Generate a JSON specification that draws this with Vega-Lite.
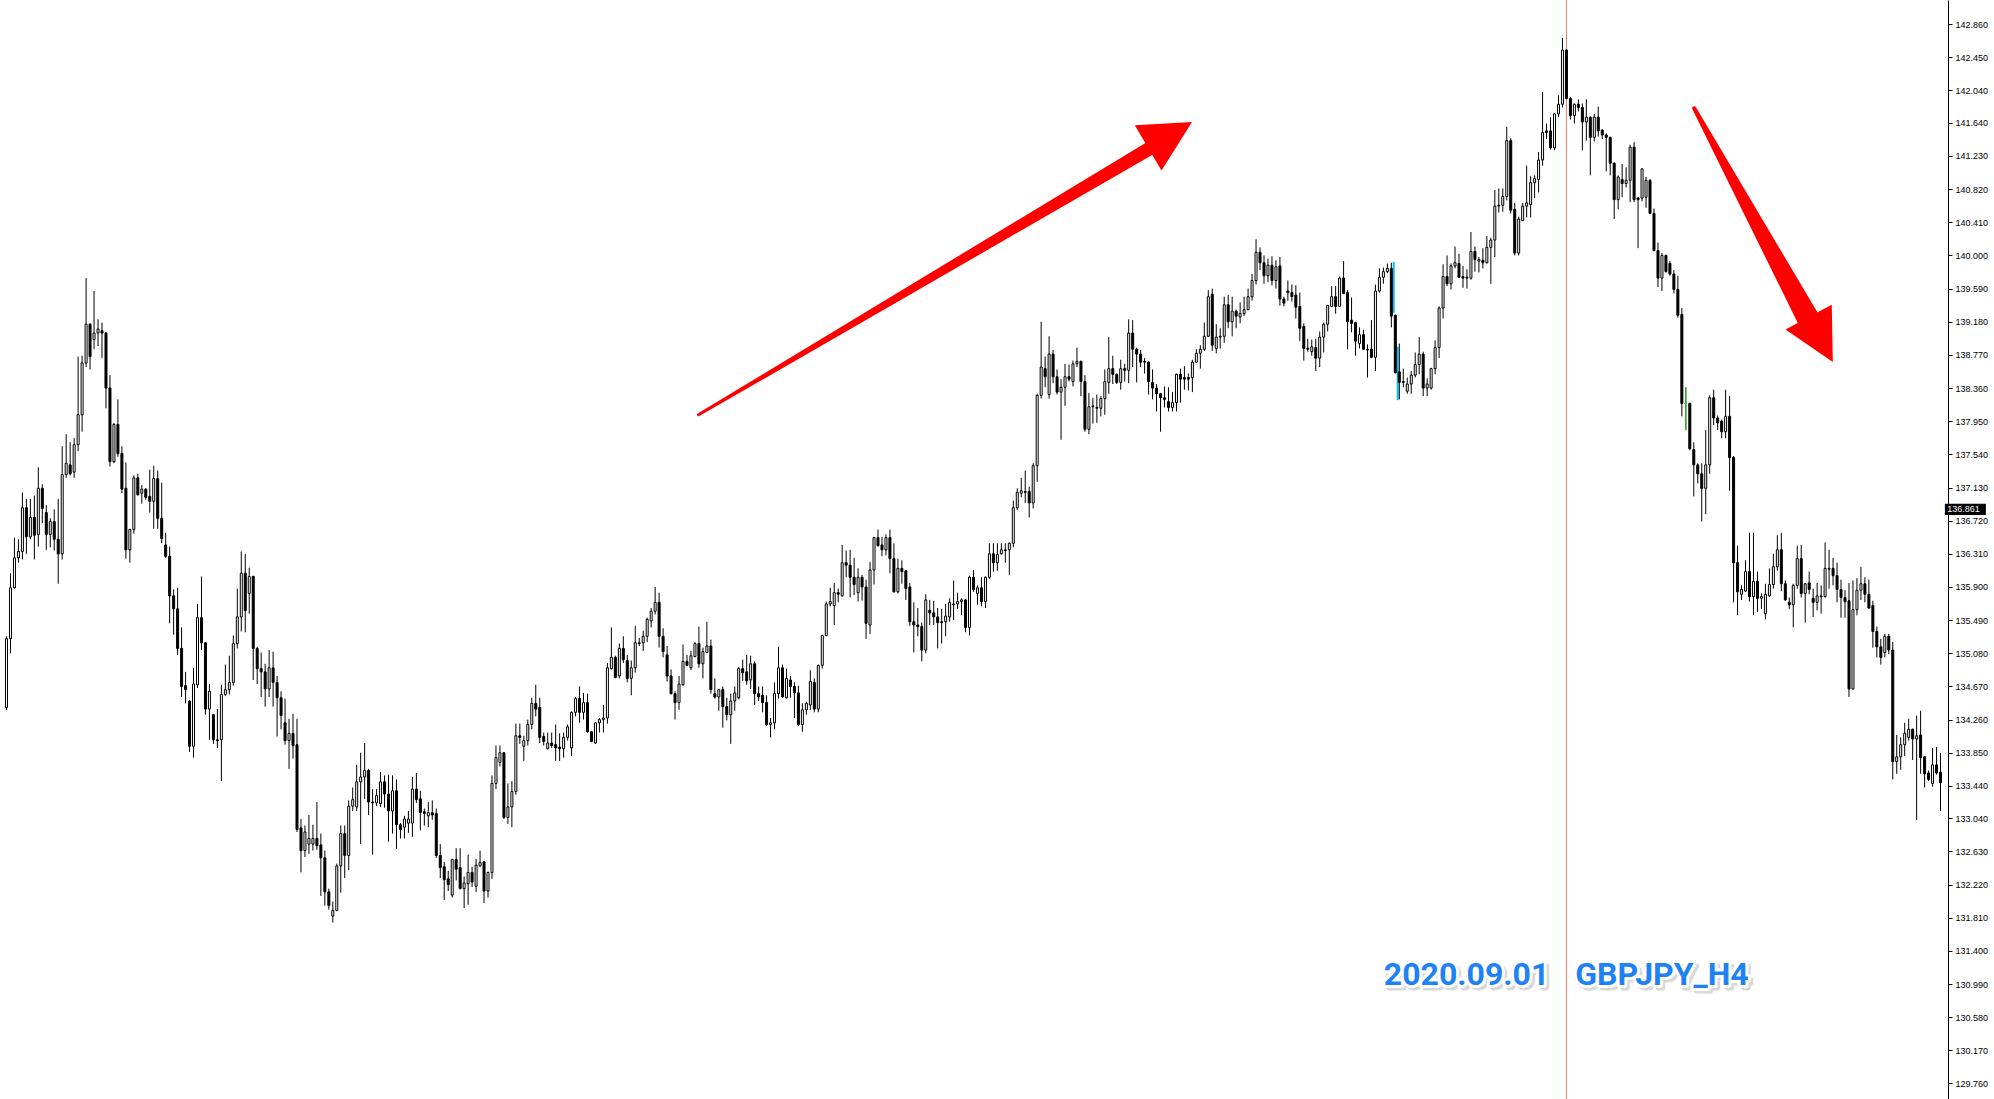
{
"$schema":"https://vega.github.io/schema/vega-lite/v6.json",
"width":1948,"height":1099,
"autosize":{"type":"none"},
"padding":{"left":0,"top":0,"right":46,"bottom":0},
"background":"white",
"config":{"view":{"stroke":null},"axisY":{"orient":"right","title":null,"grid":false,"format":".3f","domainColor":"black","domainWidth":1,"tickColor":"black","tickSize":4,"tickWidth":1,"labelFont":"Liberation Sans","labelFontSize":9,"labelColor":"black","labelPadding":3,"labelOverlap":false,"labelFlush":false}},
"resolve":{"scale":{"size":"independent"}},
"datasets":{"candles":[
{"i":0,"o":134.41,"h":135.29,"l":134.38,"c":135.26},
{"i":1,"o":135.26,"h":136.07,"l":135.08,"c":135.89},
{"i":2,"o":135.89,"h":136.51,"l":135.88,"c":136.26},
{"i":3,"o":136.26,"h":136.49,"l":136.20,"c":136.34},
{"i":4,"o":136.34,"h":137.07,"l":136.24,"c":136.88},
{"i":5,"o":136.88,"h":136.99,"l":136.31,"c":136.52},
{"i":6,"o":136.52,"h":136.99,"l":136.49,"c":136.76},
{"i":7,"o":136.76,"h":137.03,"l":136.24,"c":136.54},
{"i":8,"o":136.55,"h":137.38,"l":136.40,"c":137.12},
{"i":9,"o":137.12,"h":137.17,"l":136.69,"c":136.87},
{"i":10,"o":136.82,"h":136.91,"l":136.36,"c":136.55},
{"i":11,"o":136.55,"h":136.75,"l":136.39,"c":136.71},
{"i":12,"o":136.71,"h":136.86,"l":136.35,"c":136.49},
{"i":13,"o":136.49,"h":136.99,"l":135.94,"c":136.31},
{"i":14,"o":136.31,"h":137.64,"l":136.24,"c":137.29},
{"i":15,"o":137.29,"h":137.79,"l":137.25,"c":137.43},
{"i":16,"o":137.41,"h":137.69,"l":137.28,"c":137.30},
{"i":17,"o":137.32,"h":137.74,"l":137.25,"c":137.66},
{"i":18,"o":137.66,"h":138.75,"l":137.58,"c":138.03},
{"i":19,"o":138.03,"h":138.76,"l":137.82,"c":138.67},
{"i":20,"o":138.67,"h":139.72,"l":138.62,"c":139.15},
{"i":21,"o":139.15,"h":139.16,"l":138.59,"c":138.75},
{"i":22,"o":138.96,"h":139.56,"l":138.84,"c":139.04},
{"i":23,"o":139.04,"h":139.21,"l":138.88,"c":139.09},
{"i":24,"o":139.07,"h":139.17,"l":138.73,"c":139.04},
{"i":25,"o":139.04,"h":139.05,"l":138.11,"c":138.36},
{"i":26,"o":138.36,"h":138.52,"l":137.39,"c":137.45},
{"i":27,"o":137.45,"h":137.93,"l":137.43,"c":137.91},
{"i":28,"o":137.91,"h":138.22,"l":137.51,"c":137.55},
{"i":29,"o":137.55,"h":137.64,"l":137.06,"c":137.11},
{"i":30,"o":137.12,"h":137.44,"l":136.25,"c":136.36},
{"i":31,"o":136.36,"h":136.62,"l":136.20,"c":136.61},
{"i":32,"o":136.61,"h":137.28,"l":136.56,"c":137.25},
{"i":33,"o":137.25,"h":137.30,"l":137.03,"c":137.04},
{"i":34,"o":137.06,"h":137.16,"l":136.93,"c":137.11},
{"i":35,"o":137.11,"h":137.12,"l":136.98,"c":137.01},
{"i":36,"o":137.02,"h":137.35,"l":136.82,"c":136.96},
{"i":37,"o":136.96,"h":137.40,"l":136.62,"c":137.24},
{"i":38,"o":137.24,"h":137.34,"l":136.62,"c":136.75},
{"i":39,"o":136.75,"h":137.19,"l":136.44,"c":136.50},
{"i":40,"o":136.42,"h":136.57,"l":136.26,"c":136.28},
{"i":41,"o":136.28,"h":136.40,"l":135.45,"c":135.79},
{"i":42,"o":135.79,"h":135.87,"l":135.31,"c":135.63},
{"i":43,"o":135.63,"h":135.89,"l":135.06,"c":135.14},
{"i":44,"o":135.14,"h":135.40,"l":134.54,"c":134.67},
{"i":45,"o":134.68,"h":134.85,"l":134.46,"c":134.63},
{"i":46,"o":134.49,"h":134.50,"l":133.86,"c":133.93},
{"i":47,"o":133.93,"h":134.90,"l":133.79,"c":134.70},
{"i":48,"o":134.69,"h":135.69,"l":134.65,"c":135.52},
{"i":49,"o":135.52,"h":136.03,"l":135.12,"c":135.21},
{"i":50,"o":135.21,"h":135.22,"l":134.32,"c":134.39},
{"i":51,"o":134.39,"h":134.70,"l":134.01,"c":134.61},
{"i":52,"o":134.32,"h":134.33,"l":133.96,"c":134.01},
{"i":53,"o":134.01,"h":134.39,"l":133.91,"c":134.00},
{"i":54,"o":134.01,"h":134.69,"l":133.50,"c":134.57},
{"i":55,"o":134.57,"h":134.94,"l":134.55,"c":134.63},
{"i":56,"o":134.63,"h":135.05,"l":134.57,"c":134.72},
{"i":57,"o":134.72,"h":135.30,"l":134.68,"c":135.20},
{"i":58,"o":135.20,"h":135.88,"l":135.14,"c":135.53},
{"i":59,"o":135.53,"h":136.34,"l":135.35,"c":136.07},
{"i":60,"o":136.07,"h":136.31,"l":135.34,"c":135.61},
{"i":61,"o":135.82,"h":136.14,"l":135.57,"c":136.03},
{"i":62,"o":136.03,"h":136.04,"l":134.75,"c":135.14},
{"i":63,"o":135.14,"h":135.16,"l":134.70,"c":134.89},
{"i":64,"o":134.89,"h":135.09,"l":134.54,"c":134.85},
{"i":65,"o":134.85,"h":134.95,"l":134.42,"c":134.64},
{"i":66,"o":134.64,"h":135.12,"l":134.54,"c":134.90},
{"i":67,"o":134.90,"h":135.10,"l":134.42,"c":134.72},
{"i":68,"o":134.72,"h":134.80,"l":134.05,"c":134.53},
{"i":69,"o":134.53,"h":134.61,"l":134.14,"c":134.31},
{"i":70,"o":134.22,"h":134.52,"l":133.95,"c":134.00},
{"i":71,"o":134.00,"h":134.27,"l":133.65,"c":134.09},
{"i":72,"o":134.09,"h":134.33,"l":133.78,"c":133.94},
{"i":73,"o":133.95,"h":134.27,"l":132.87,"c":132.90},
{"i":74,"o":132.92,"h":133.03,"l":132.37,"c":132.64},
{"i":75,"o":132.64,"h":132.95,"l":132.56,"c":132.87},
{"i":76,"o":132.72,"h":133.08,"l":132.60,"c":132.79},
{"i":77,"o":132.72,"h":132.96,"l":132.64,"c":132.79},
{"i":78,"o":132.79,"h":133.24,"l":132.65,"c":132.70},
{"i":79,"o":132.71,"h":132.85,"l":132.08,"c":132.55},
{"i":80,"o":132.55,"h":132.64,"l":131.96,"c":132.13},
{"i":81,"o":132.13,"h":132.17,"l":131.91,"c":131.96},
{"i":82,"o":131.83,"h":132.01,"l":131.75,"c":131.90},
{"i":83,"o":131.90,"h":132.48,"l":131.89,"c":132.45},
{"i":84,"o":132.45,"h":132.95,"l":132.12,"c":132.85},
{"i":85,"o":132.85,"h":132.95,"l":132.30,"c":132.58},
{"i":86,"o":132.58,"h":133.26,"l":132.40,"c":133.19},
{"i":87,"o":133.19,"h":133.42,"l":133.13,"c":133.27},
{"i":88,"o":133.18,"h":133.70,"l":133.13,"c":133.49},
{"i":89,"o":133.49,"h":133.85,"l":132.72,"c":133.55},
{"i":90,"o":133.55,"h":133.97,"l":133.28,"c":133.63},
{"i":91,"o":133.63,"h":133.65,"l":133.08,"c":133.24},
{"i":92,"o":133.24,"h":133.40,"l":132.59,"c":133.23},
{"i":93,"o":133.23,"h":133.40,"l":133.19,"c":133.32},
{"i":94,"o":133.22,"h":133.61,"l":133.18,"c":133.49},
{"i":95,"o":133.49,"h":133.57,"l":133.17,"c":133.34},
{"i":96,"o":133.34,"h":133.58,"l":132.75,"c":133.13},
{"i":97,"o":133.13,"h":133.57,"l":132.85,"c":133.38},
{"i":98,"o":133.38,"h":133.52,"l":132.66,"c":132.96},
{"i":99,"o":132.96,"h":132.98,"l":132.79,"c":132.90},
{"i":100,"o":132.93,"h":133.07,"l":132.79,"c":133.03},
{"i":101,"o":132.98,"h":133.13,"l":132.86,"c":133.03},
{"i":102,"o":132.98,"h":133.55,"l":132.81,"c":133.40},
{"i":103,"o":133.40,"h":133.60,"l":133.23,"c":133.27},
{"i":104,"o":133.28,"h":133.38,"l":132.89,"c":133.11},
{"i":105,"o":133.12,"h":133.16,"l":132.95,"c":133.10},
{"i":106,"o":133.07,"h":133.24,"l":132.93,"c":133.11},
{"i":107,"o":133.11,"h":133.26,"l":133.02,"c":133.08},
{"i":108,"o":133.10,"h":133.16,"l":132.55,"c":132.58},
{"i":109,"o":132.58,"h":132.72,"l":132.30,"c":132.43},
{"i":110,"o":132.44,"h":132.50,"l":132.03,"c":132.28},
{"i":111,"o":132.29,"h":132.39,"l":132.14,"c":132.22},
{"i":112,"o":132.09,"h":132.54,"l":132.06,"c":132.53},
{"i":113,"o":132.53,"h":132.67,"l":132.27,"c":132.41},
{"i":114,"o":132.43,"h":132.67,"l":132.16,"c":132.17},
{"i":115,"o":132.17,"h":132.32,"l":131.93,"c":132.24},
{"i":116,"o":132.23,"h":132.59,"l":131.97,"c":132.37},
{"i":117,"o":132.37,"h":132.44,"l":132.19,"c":132.25},
{"i":118,"o":132.20,"h":132.54,"l":132.13,"c":132.46},
{"i":119,"o":132.45,"h":132.64,"l":132.44,"c":132.49},
{"i":120,"o":132.50,"h":132.51,"l":131.99,"c":132.14},
{"i":121,"o":132.14,"h":132.38,"l":132.06,"c":132.37},
{"i":122,"o":132.37,"h":133.57,"l":132.29,"c":133.47},
{"i":123,"o":133.47,"h":133.94,"l":133.40,"c":133.79},
{"i":124,"o":133.73,"h":133.94,"l":133.68,"c":133.85},
{"i":125,"o":133.85,"h":133.86,"l":133.03,"c":133.05},
{"i":126,"o":133.05,"h":133.47,"l":132.97,"c":133.18},
{"i":127,"o":133.18,"h":133.50,"l":132.93,"c":133.37},
{"i":128,"o":133.37,"h":134.21,"l":133.33,"c":134.06},
{"i":129,"o":134.06,"h":134.21,"l":133.96,"c":134.04},
{"i":130,"o":133.93,"h":134.06,"l":133.75,"c":134.00},
{"i":131,"o":134.00,"h":134.26,"l":133.94,"c":134.20},
{"i":132,"o":134.20,"h":134.53,"l":134.14,"c":134.46},
{"i":133,"o":134.46,"h":134.69,"l":134.30,"c":134.39},
{"i":134,"o":134.41,"h":134.53,"l":133.97,"c":134.04},
{"i":135,"o":134.05,"h":134.10,"l":133.94,"c":133.99},
{"i":136,"o":133.90,"h":134.10,"l":133.89,"c":133.97},
{"i":137,"o":133.97,"h":134.10,"l":133.91,"c":133.94},
{"i":138,"o":133.95,"h":134.20,"l":133.75,"c":133.91},
{"i":139,"o":133.92,"h":134.09,"l":133.75,"c":133.90},
{"i":140,"o":133.90,"h":134.10,"l":133.79,"c":134.04},
{"i":141,"o":134.04,"h":134.20,"l":134.00,"c":134.17},
{"i":142,"o":133.91,"h":134.36,"l":133.81,"c":134.35},
{"i":143,"o":134.35,"h":134.54,"l":134.30,"c":134.52},
{"i":144,"o":134.52,"h":134.67,"l":134.22,"c":134.35},
{"i":145,"o":134.35,"h":134.59,"l":134.26,"c":134.47},
{"i":146,"o":134.47,"h":134.58,"l":134.10,"c":134.11},
{"i":147,"o":134.11,"h":134.12,"l":133.98,"c":133.99},
{"i":148,"o":133.97,"h":134.23,"l":133.96,"c":134.22},
{"i":149,"o":134.22,"h":134.28,"l":134.10,"c":134.26},
{"i":150,"o":134.26,"h":134.44,"l":134.10,"c":134.28},
{"i":151,"o":134.28,"h":134.96,"l":134.21,"c":134.90},
{"i":152,"o":134.89,"h":135.40,"l":134.88,"c":135.03},
{"i":153,"o":135.03,"h":135.05,"l":134.77,"c":134.78},
{"i":154,"o":134.80,"h":135.20,"l":134.77,"c":135.14},
{"i":155,"o":135.14,"h":135.29,"l":134.96,"c":135.00},
{"i":156,"o":134.99,"h":135.06,"l":134.72,"c":134.77},
{"i":157,"o":134.77,"h":134.99,"l":134.56,"c":134.90},
{"i":158,"o":134.90,"h":135.42,"l":134.84,"c":135.21},
{"i":159,"o":135.20,"h":135.27,"l":135.17,"c":135.21},
{"i":160,"o":135.21,"h":135.36,"l":135.11,"c":135.29},
{"i":161,"o":135.29,"h":135.52,"l":135.22,"c":135.50},
{"i":162,"o":135.48,"h":135.64,"l":135.40,"c":135.60},
{"i":163,"o":135.60,"h":135.90,"l":135.56,"c":135.71},
{"i":164,"o":135.71,"h":135.83,"l":135.15,"c":135.29},
{"i":165,"o":135.29,"h":135.39,"l":135.03,"c":135.10},
{"i":166,"o":135.06,"h":135.17,"l":134.73,"c":134.80},
{"i":167,"o":134.80,"h":134.88,"l":134.57,"c":134.58},
{"i":168,"o":134.58,"h":134.61,"l":134.26,"c":134.47},
{"i":169,"o":134.47,"h":134.80,"l":134.38,"c":134.70},
{"i":170,"o":134.69,"h":135.19,"l":134.68,"c":134.98},
{"i":171,"o":134.98,"h":135.06,"l":134.92,"c":134.93},
{"i":172,"o":134.90,"h":135.11,"l":134.87,"c":135.05},
{"i":173,"o":135.04,"h":135.22,"l":135.03,"c":135.20},
{"i":174,"o":135.20,"h":135.41,"l":134.90,"c":134.95},
{"i":175,"o":134.95,"h":135.15,"l":134.77,"c":135.10},
{"i":176,"o":135.09,"h":135.47,"l":135.08,"c":135.17},
{"i":177,"o":135.17,"h":135.25,"l":134.58,"c":134.63},
{"i":178,"o":134.58,"h":134.77,"l":134.52,"c":134.54},
{"i":179,"o":134.54,"h":134.64,"l":134.37,"c":134.63},
{"i":180,"o":134.63,"h":134.67,"l":134.16,"c":134.42},
{"i":181,"o":134.42,"h":134.53,"l":134.25,"c":134.32},
{"i":182,"o":134.32,"h":134.58,"l":133.96,"c":134.49},
{"i":183,"o":134.49,"h":134.67,"l":134.37,"c":134.59},
{"i":184,"o":134.53,"h":134.91,"l":134.51,"c":134.89},
{"i":185,"o":134.89,"h":135.00,"l":134.74,"c":134.84},
{"i":186,"o":134.85,"h":135.06,"l":134.69,"c":134.74},
{"i":187,"o":134.75,"h":135.05,"l":134.64,"c":134.95},
{"i":188,"o":134.95,"h":134.98,"l":134.44,"c":134.58},
{"i":189,"o":134.58,"h":134.67,"l":134.49,"c":134.54},
{"i":190,"o":134.56,"h":134.67,"l":134.35,"c":134.47},
{"i":191,"o":134.47,"h":134.56,"l":134.18,"c":134.20},
{"i":192,"o":134.20,"h":134.28,"l":134.04,"c":134.22},
{"i":193,"o":134.22,"h":134.72,"l":134.14,"c":134.58},
{"i":194,"o":134.58,"h":135.16,"l":134.52,"c":134.90},
{"i":195,"o":134.90,"h":134.94,"l":134.53,"c":134.54},
{"i":196,"o":134.53,"h":134.89,"l":134.52,"c":134.77},
{"i":197,"o":134.75,"h":134.80,"l":134.53,"c":134.67},
{"i":198,"o":134.67,"h":134.72,"l":134.28,"c":134.59},
{"i":199,"o":134.59,"h":134.68,"l":134.18,"c":134.20},
{"i":200,"o":134.20,"h":134.46,"l":134.11,"c":134.38},
{"i":201,"o":134.38,"h":134.48,"l":134.32,"c":134.46},
{"i":202,"o":134.44,"h":134.87,"l":134.38,"c":134.73},
{"i":203,"o":134.72,"h":134.77,"l":134.35,"c":134.39},
{"i":204,"o":134.39,"h":134.94,"l":134.35,"c":134.93},
{"i":205,"o":134.93,"h":135.31,"l":134.89,"c":135.30},
{"i":206,"o":135.30,"h":135.72,"l":135.29,"c":135.69},
{"i":207,"o":135.69,"h":135.89,"l":135.66,"c":135.72},
{"i":208,"o":135.67,"h":135.95,"l":135.43,"c":135.83},
{"i":209,"o":135.83,"h":135.88,"l":135.71,"c":135.81},
{"i":210,"o":135.79,"h":136.42,"l":135.78,"c":136.20},
{"i":211,"o":136.20,"h":136.35,"l":136.02,"c":136.17},
{"i":212,"o":136.17,"h":136.36,"l":135.77,"c":136.02},
{"i":213,"o":136.02,"h":136.26,"l":135.80,"c":135.93},
{"i":214,"o":135.83,"h":136.13,"l":135.72,"c":136.02},
{"i":215,"o":136.02,"h":136.05,"l":135.73,"c":135.90},
{"i":216,"o":135.90,"h":135.99,"l":135.26,"c":135.45},
{"i":217,"o":135.43,"h":136.21,"l":135.32,"c":136.11},
{"i":218,"o":136.11,"h":136.52,"l":135.93,"c":136.51},
{"i":219,"o":136.51,"h":136.61,"l":136.40,"c":136.41},
{"i":220,"o":136.42,"h":136.52,"l":136.28,"c":136.36},
{"i":221,"o":136.36,"h":136.55,"l":136.29,"c":136.51},
{"i":222,"o":136.51,"h":136.61,"l":136.07,"c":136.25},
{"i":223,"o":136.25,"h":136.44,"l":135.83,"c":135.84},
{"i":224,"o":135.84,"h":136.25,"l":135.82,"c":136.13},
{"i":225,"o":136.13,"h":136.23,"l":135.94,"c":136.09},
{"i":226,"o":136.10,"h":136.11,"l":135.74,"c":135.88},
{"i":227,"o":135.90,"h":135.95,"l":135.42,"c":135.47},
{"i":228,"o":135.47,"h":135.71,"l":135.09,"c":135.43},
{"i":229,"o":135.43,"h":135.64,"l":135.29,"c":135.41},
{"i":230,"o":135.41,"h":135.46,"l":134.98,"c":135.12},
{"i":231,"o":135.12,"h":135.81,"l":135.08,"c":135.74},
{"i":232,"o":135.61,"h":135.74,"l":135.43,"c":135.58},
{"i":233,"o":135.58,"h":135.73,"l":135.43,"c":135.53},
{"i":234,"o":135.53,"h":135.64,"l":135.14,"c":135.46},
{"i":235,"o":135.47,"h":135.63,"l":135.20,"c":135.46},
{"i":236,"o":135.47,"h":135.69,"l":135.29,"c":135.54},
{"i":237,"o":135.53,"h":135.76,"l":135.47,"c":135.71},
{"i":238,"o":135.68,"h":135.98,"l":135.49,"c":135.69},
{"i":239,"o":135.69,"h":135.83,"l":135.63,"c":135.72},
{"i":240,"o":135.72,"h":135.76,"l":135.55,"c":135.74},
{"i":241,"o":135.74,"h":135.75,"l":135.34,"c":135.40},
{"i":242,"o":135.40,"h":136.04,"l":135.30,"c":136.02},
{"i":243,"o":136.02,"h":136.11,"l":135.84,"c":135.87},
{"i":244,"o":135.82,"h":135.92,"l":135.68,"c":135.89},
{"i":245,"o":135.89,"h":136.02,"l":135.66,"c":135.72},
{"i":246,"o":135.72,"h":136.03,"l":135.64,"c":136.02},
{"i":247,"o":136.02,"h":136.44,"l":136.00,"c":136.31},
{"i":248,"o":136.31,"h":136.44,"l":136.09,"c":136.20},
{"i":249,"o":136.20,"h":136.44,"l":136.10,"c":136.30},
{"i":250,"o":136.31,"h":136.44,"l":136.30,"c":136.36},
{"i":251,"o":136.35,"h":136.44,"l":136.20,"c":136.36},
{"i":252,"o":136.36,"h":136.45,"l":136.05,"c":136.44},
{"i":253,"o":136.44,"h":136.97,"l":136.39,"c":136.88},
{"i":254,"o":136.88,"h":137.12,"l":136.85,"c":137.07},
{"i":255,"o":137.06,"h":137.25,"l":137.01,"c":137.09},
{"i":256,"o":137.08,"h":137.34,"l":136.94,"c":137.07},
{"i":257,"o":137.08,"h":137.14,"l":136.76,"c":136.94},
{"i":258,"o":136.94,"h":137.43,"l":136.87,"c":137.40},
{"i":259,"o":137.40,"h":138.29,"l":137.20,"c":138.27},
{"i":260,"o":138.27,"h":139.18,"l":138.23,"c":138.62},
{"i":261,"o":138.60,"h":138.75,"l":138.37,"c":138.50},
{"i":262,"o":138.28,"h":139.00,"l":138.23,"c":138.78},
{"i":263,"o":138.78,"h":138.83,"l":138.42,"c":138.50},
{"i":264,"o":138.50,"h":138.59,"l":138.28,"c":138.31},
{"i":265,"o":138.31,"h":138.47,"l":137.72,"c":138.37},
{"i":266,"o":138.37,"h":138.66,"l":138.14,"c":138.50},
{"i":267,"o":138.50,"h":138.65,"l":138.44,"c":138.47},
{"i":268,"o":138.44,"h":138.70,"l":138.38,"c":138.66},
{"i":269,"o":138.66,"h":138.86,"l":138.62,"c":138.69},
{"i":270,"o":138.69,"h":138.70,"l":138.26,"c":138.44},
{"i":271,"o":138.44,"h":138.52,"l":137.82,"c":137.85},
{"i":272,"o":137.85,"h":138.30,"l":137.79,"c":138.13},
{"i":273,"o":138.13,"h":138.24,"l":137.92,"c":138.14},
{"i":274,"o":138.11,"h":138.28,"l":137.93,"c":138.12},
{"i":275,"o":138.11,"h":138.26,"l":138.01,"c":138.23},
{"i":276,"o":138.23,"h":138.59,"l":138.03,"c":138.44},
{"i":277,"o":138.43,"h":138.99,"l":138.29,"c":138.60},
{"i":278,"o":138.60,"h":138.76,"l":138.41,"c":138.53},
{"i":279,"o":138.53,"h":138.54,"l":138.41,"c":138.43},
{"i":280,"o":138.43,"h":138.71,"l":138.34,"c":138.60},
{"i":281,"o":138.60,"h":138.66,"l":138.44,"c":138.58},
{"i":282,"o":138.58,"h":139.21,"l":138.42,"c":139.04},
{"i":283,"o":139.04,"h":139.20,"l":138.62,"c":138.84},
{"i":284,"o":138.84,"h":138.86,"l":138.43,"c":138.78},
{"i":285,"o":138.78,"h":138.83,"l":138.62,"c":138.68},
{"i":286,"o":138.69,"h":138.73,"l":138.54,"c":138.68},
{"i":287,"o":138.68,"h":138.69,"l":138.28,"c":138.44},
{"i":288,"o":138.43,"h":138.59,"l":138.22,"c":138.36},
{"i":289,"o":138.36,"h":138.41,"l":138.07,"c":138.29},
{"i":290,"o":138.29,"h":138.30,"l":137.82,"c":138.24},
{"i":291,"o":138.24,"h":138.38,"l":138.12,"c":138.22},
{"i":292,"o":138.19,"h":138.37,"l":138.07,"c":138.12},
{"i":293,"o":138.12,"h":138.31,"l":138.07,"c":138.18},
{"i":294,"o":138.18,"h":138.54,"l":138.07,"c":138.53},
{"i":295,"o":138.53,"h":138.60,"l":138.18,"c":138.47},
{"i":296,"o":138.49,"h":138.63,"l":138.34,"c":138.47},
{"i":297,"o":138.49,"h":138.54,"l":138.33,"c":138.47},
{"i":298,"o":138.49,"h":138.71,"l":138.31,"c":138.68},
{"i":299,"o":138.68,"h":138.84,"l":138.67,"c":138.79},
{"i":300,"o":138.79,"h":138.89,"l":138.60,"c":138.84},
{"i":301,"o":138.84,"h":139.17,"l":138.82,"c":139.00},
{"i":302,"o":139.00,"h":139.57,"l":138.99,"c":139.49},
{"i":303,"o":139.52,"h":139.59,"l":138.82,"c":138.89},
{"i":304,"o":138.85,"h":139.15,"l":138.79,"c":138.99},
{"i":305,"o":138.99,"h":139.10,"l":138.85,"c":139.00},
{"i":306,"o":139.00,"h":139.49,"l":138.92,"c":139.39},
{"i":307,"o":139.39,"h":139.51,"l":139.10,"c":139.18},
{"i":308,"o":139.18,"h":139.49,"l":139.00,"c":139.31},
{"i":309,"o":139.31,"h":139.33,"l":139.10,"c":139.25},
{"i":310,"o":139.24,"h":139.42,"l":139.16,"c":139.28},
{"i":311,"o":139.28,"h":139.49,"l":139.25,"c":139.33},
{"i":312,"o":139.33,"h":139.59,"l":139.32,"c":139.49},
{"i":313,"o":139.49,"h":139.77,"l":139.44,"c":139.69},
{"i":314,"o":139.69,"h":140.20,"l":139.64,"c":140.04},
{"i":315,"o":140.04,"h":140.10,"l":139.82,"c":139.91},
{"i":316,"o":139.91,"h":140.00,"l":139.65,"c":139.75},
{"i":317,"o":139.75,"h":139.96,"l":139.67,"c":139.88},
{"i":318,"o":139.88,"h":139.99,"l":139.63,"c":139.69},
{"i":319,"o":139.69,"h":139.94,"l":139.59,"c":139.86},
{"i":320,"o":139.87,"h":139.98,"l":139.38,"c":139.46},
{"i":321,"o":139.46,"h":139.49,"l":139.37,"c":139.41},
{"i":322,"o":139.56,"h":139.69,"l":139.44,"c":139.54},
{"i":323,"o":139.54,"h":139.64,"l":139.43,"c":139.49},
{"i":324,"o":139.51,"h":139.63,"l":139.22,"c":139.36},
{"i":325,"o":139.37,"h":139.54,"l":138.94,"c":139.10},
{"i":326,"o":139.12,"h":139.16,"l":138.70,"c":138.85},
{"i":327,"o":138.85,"h":138.97,"l":138.81,"c":138.84},
{"i":328,"o":138.81,"h":138.96,"l":138.76,"c":138.87},
{"i":329,"o":138.86,"h":138.97,"l":138.57,"c":138.73},
{"i":330,"o":138.73,"h":139.06,"l":138.62,"c":138.99},
{"i":331,"o":138.99,"h":139.17,"l":138.80,"c":139.15},
{"i":332,"o":139.15,"h":139.39,"l":139.06,"c":139.38},
{"i":333,"o":139.37,"h":139.62,"l":139.36,"c":139.49},
{"i":334,"o":139.49,"h":139.62,"l":139.28,"c":139.37},
{"i":335,"o":139.37,"h":139.74,"l":139.36,"c":139.72},
{"i":336,"o":139.72,"h":139.93,"l":139.52,"c":139.53},
{"i":337,"o":139.54,"h":139.57,"l":138.84,"c":139.18},
{"i":338,"o":139.20,"h":139.48,"l":139.05,"c":139.16},
{"i":339,"o":139.17,"h":139.18,"l":138.76,"c":138.94},
{"i":340,"o":138.91,"h":139.11,"l":138.85,"c":139.02},
{"i":341,"o":139.02,"h":139.08,"l":138.83,"c":138.84},
{"i":342,"o":138.84,"h":138.90,"l":138.49,"c":138.83},
{"i":343,"o":138.84,"h":139.20,"l":138.73,"c":138.74},
{"i":344,"o":138.74,"h":139.64,"l":138.57,"c":139.56},
{"i":345,"o":139.56,"h":139.84,"l":139.54,"c":139.73},
{"i":346,"o":139.73,"h":139.85,"l":139.65,"c":139.80},
{"i":347,"o":139.80,"h":139.90,"l":139.78,"c":139.84},
{"i":348,"o":139.84,"h":139.91,"l":139.11,"c":139.25},
{"i":349,"o":139.26,"h":139.27,"l":138.54,"c":138.55},
{"i":350,"o":138.56,"h":138.91,"l":138.22,"c":138.43},
{"i":351,"o":138.44,"h":138.60,"l":138.37,"c":138.43},
{"i":352,"o":138.32,"h":138.49,"l":138.29,"c":138.41},
{"i":353,"o":138.41,"h":138.57,"l":138.29,"c":138.52},
{"i":354,"o":138.52,"h":138.80,"l":138.49,"c":138.65},
{"i":355,"o":138.65,"h":138.99,"l":138.53,"c":138.78},
{"i":356,"o":138.78,"h":138.81,"l":138.26,"c":138.36},
{"i":357,"o":138.36,"h":138.48,"l":138.26,"c":138.41},
{"i":358,"o":138.36,"h":138.61,"l":138.34,"c":138.60},
{"i":359,"o":138.60,"h":138.95,"l":138.53,"c":138.86},
{"i":360,"o":138.86,"h":139.37,"l":138.73,"c":139.35},
{"i":361,"o":139.35,"h":139.89,"l":139.22,"c":139.74},
{"i":362,"o":139.74,"h":140.00,"l":139.62,"c":139.65},
{"i":363,"o":139.65,"h":139.90,"l":139.58,"c":139.87},
{"i":364,"o":139.87,"h":140.11,"l":139.84,"c":139.91},
{"i":365,"o":139.90,"h":140.02,"l":139.72,"c":139.73},
{"i":366,"o":139.74,"h":139.87,"l":139.60,"c":139.72},
{"i":367,"o":139.73,"h":139.83,"l":139.59,"c":139.72},
{"i":368,"o":139.72,"h":140.29,"l":139.70,"c":140.05},
{"i":369,"o":140.05,"h":140.11,"l":139.80,"c":139.95},
{"i":370,"o":139.93,"h":139.98,"l":139.79,"c":139.95},
{"i":371,"o":139.94,"h":140.09,"l":139.84,"c":139.91},
{"i":372,"o":139.91,"h":140.24,"l":139.90,"c":140.10},
{"i":373,"o":140.10,"h":140.22,"l":139.65,"c":140.19},
{"i":374,"o":140.19,"h":140.81,"l":139.98,"c":140.61},
{"i":375,"o":140.61,"h":140.83,"l":140.53,"c":140.62},
{"i":376,"o":140.62,"h":140.83,"l":140.54,"c":140.73},
{"i":377,"o":140.73,"h":141.59,"l":140.68,"c":141.42},
{"i":378,"o":141.42,"h":141.45,"l":140.52,"c":140.56},
{"i":379,"o":140.57,"h":140.65,"l":140.00,"c":140.03},
{"i":380,"o":140.03,"h":140.48,"l":140.00,"c":140.45},
{"i":381,"o":140.43,"h":140.65,"l":140.43,"c":140.61},
{"i":382,"o":140.61,"h":141.11,"l":140.47,"c":140.65},
{"i":383,"o":140.63,"h":140.98,"l":140.47,"c":140.90},
{"i":384,"o":140.90,"h":140.99,"l":140.71,"c":140.95},
{"i":385,"o":140.94,"h":141.28,"l":140.78,"c":141.18},
{"i":386,"o":141.18,"h":142.02,"l":141.11,"c":141.52},
{"i":387,"o":141.54,"h":141.63,"l":141.44,"c":141.52},
{"i":388,"o":141.54,"h":141.71,"l":141.31,"c":141.33},
{"i":389,"o":141.33,"h":141.76,"l":141.30,"c":141.75},
{"i":390,"o":141.75,"h":141.98,"l":141.71,"c":141.87},
{"i":391,"o":141.87,"h":142.69,"l":141.83,"c":142.54},
{"i":392,"o":142.54,"h":142.55,"l":141.93,"c":141.94},
{"i":393,"o":141.94,"h":141.96,"l":141.68,"c":141.73},
{"i":394,"o":141.73,"h":141.88,"l":141.63,"c":141.87},
{"i":395,"o":141.87,"h":141.93,"l":141.78,"c":141.83},
{"i":396,"o":141.83,"h":141.88,"l":141.30,"c":141.65},
{"i":397,"o":141.65,"h":141.93,"l":141.42,"c":141.71},
{"i":398,"o":141.71,"h":141.72,"l":140.99,"c":141.46},
{"i":399,"o":141.46,"h":141.75,"l":141.41,"c":141.71},
{"i":400,"o":141.71,"h":141.84,"l":141.47,"c":141.54},
{"i":401,"o":141.55,"h":141.56,"l":141.44,"c":141.49},
{"i":402,"o":141.49,"h":141.51,"l":141.04,"c":141.46},
{"i":403,"o":141.46,"h":141.47,"l":140.99,"c":141.14},
{"i":404,"o":141.14,"h":141.15,"l":140.45,"c":140.69},
{"i":405,"o":140.69,"h":140.99,"l":140.57,"c":140.97},
{"i":406,"o":140.94,"h":141.13,"l":140.72,"c":140.89},
{"i":407,"o":140.89,"h":141.09,"l":140.84,"c":140.93},
{"i":408,"o":140.93,"h":141.37,"l":140.66,"c":141.34},
{"i":409,"o":141.34,"h":141.40,"l":140.66,"c":140.69},
{"i":410,"o":140.71,"h":140.72,"l":140.09,"c":140.69},
{"i":411,"o":140.71,"h":141.08,"l":140.67,"c":141.07},
{"i":412,"o":140.72,"h":140.97,"l":140.59,"c":140.93},
{"i":413,"o":140.93,"h":140.94,"l":140.51,"c":140.52},
{"i":414,"o":140.52,"h":140.58,"l":140.05,"c":140.06},
{"i":415,"o":140.06,"h":140.16,"l":139.61,"c":139.72},
{"i":416,"o":139.72,"h":140.03,"l":139.56,"c":140.00},
{"i":417,"o":140.00,"h":140.01,"l":139.79,"c":139.80},
{"i":418,"o":139.90,"h":139.93,"l":139.75,"c":139.77},
{"i":419,"o":139.77,"h":139.82,"l":139.53,"c":139.58},
{"i":420,"o":139.58,"h":139.75,"l":139.23,"c":139.26},
{"i":421,"o":139.27,"h":139.35,"l":138.01,"c":138.17},
{"i":422,"o":138.17,"h":138.37,"l":137.84,"c":138.17},
{"i":423,"o":138.17,"h":138.18,"l":137.59,"c":137.61},
{"i":424,"o":137.60,"h":137.69,"l":137.02,"c":137.41},
{"i":425,"o":137.41,"h":137.43,"l":137.18,"c":137.30},
{"i":426,"o":137.30,"h":137.43,"l":136.71,"c":137.12},
{"i":427,"o":137.12,"h":137.84,"l":136.80,"c":137.41},
{"i":428,"o":137.41,"h":138.27,"l":137.30,"c":138.24},
{"i":429,"o":138.24,"h":138.34,"l":137.90,"c":137.99},
{"i":430,"o":137.99,"h":138.02,"l":137.84,"c":137.93},
{"i":431,"o":137.95,"h":137.97,"l":137.74,"c":137.82},
{"i":432,"o":137.82,"h":138.34,"l":137.74,"c":138.01},
{"i":433,"o":138.01,"h":138.26,"l":137.09,"c":137.50},
{"i":434,"o":137.50,"h":137.52,"l":135.71,"c":136.20},
{"i":435,"o":136.20,"h":136.41,"l":135.55,"c":135.84},
{"i":436,"o":135.81,"h":135.92,"l":135.74,"c":135.87},
{"i":437,"o":135.85,"h":136.23,"l":135.84,"c":136.09},
{"i":438,"o":136.09,"h":136.57,"l":135.72,"c":135.78},
{"i":439,"o":135.78,"h":136.57,"l":135.55,"c":135.97},
{"i":440,"o":135.97,"h":136.09,"l":135.59,"c":135.76},
{"i":441,"o":135.76,"h":135.82,"l":135.63,"c":135.78},
{"i":442,"o":135.57,"h":135.94,"l":135.50,"c":135.81},
{"i":443,"o":135.79,"h":136.13,"l":135.78,"c":135.93},
{"i":444,"o":135.93,"h":136.31,"l":135.88,"c":136.15},
{"i":445,"o":136.15,"h":136.54,"l":136.10,"c":136.36},
{"i":446,"o":136.36,"h":136.57,"l":135.85,"c":135.94},
{"i":447,"o":135.94,"h":135.98,"l":135.73,"c":135.74},
{"i":448,"o":135.71,"h":135.77,"l":135.63,"c":135.68},
{"i":449,"o":135.68,"h":135.94,"l":135.40,"c":135.92},
{"i":450,"o":135.92,"h":136.41,"l":135.88,"c":136.25},
{"i":451,"o":136.25,"h":136.42,"l":135.77,"c":135.82},
{"i":452,"o":135.82,"h":135.95,"l":135.46,"c":135.94},
{"i":453,"o":135.95,"h":136.09,"l":135.81,"c":135.87},
{"i":454,"o":135.76,"h":135.88,"l":135.53,"c":135.71},
{"i":455,"o":135.71,"h":135.95,"l":135.61,"c":135.79},
{"i":456,"o":135.78,"h":135.92,"l":135.57,"c":135.79},
{"i":457,"o":135.78,"h":136.45,"l":135.77,"c":136.13},
{"i":458,"o":136.12,"h":136.36,"l":135.88,"c":136.13},
{"i":459,"o":136.13,"h":136.26,"l":135.92,"c":136.04},
{"i":460,"o":136.04,"h":136.20,"l":135.71,"c":135.87},
{"i":461,"o":135.87,"h":135.99,"l":135.52,"c":135.77},
{"i":462,"o":135.77,"h":135.86,"l":135.52,"c":135.72},
{"i":463,"o":135.73,"h":135.95,"l":134.54,"c":134.64},
{"i":464,"o":134.64,"h":135.98,"l":134.63,"c":135.62},
{"i":465,"o":135.62,"h":136.01,"l":135.55,"c":135.86},
{"i":466,"o":135.86,"h":136.15,"l":135.74,"c":135.94},
{"i":467,"o":135.94,"h":136.02,"l":135.71,"c":135.81},
{"i":468,"o":135.81,"h":135.99,"l":135.63,"c":135.64},
{"i":469,"o":135.67,"h":135.73,"l":135.15,"c":135.35},
{"i":470,"o":135.35,"h":135.41,"l":135.03,"c":135.16},
{"i":471,"o":135.16,"h":135.26,"l":134.94,"c":135.03},
{"i":472,"o":135.09,"h":135.32,"l":135.03,"c":135.29},
{"i":473,"o":135.29,"h":135.32,"l":135.07,"c":135.12},
{"i":474,"o":135.12,"h":135.22,"l":133.52,"c":133.74},
{"i":475,"o":133.74,"h":134.07,"l":133.59,"c":133.80},
{"i":476,"o":133.80,"h":134.04,"l":133.64,"c":133.95},
{"i":477,"o":133.95,"h":134.22,"l":133.81,"c":134.09},
{"i":478,"o":134.04,"h":134.27,"l":134.00,"c":134.14},
{"i":479,"o":134.14,"h":134.15,"l":133.76,"c":134.02},
{"i":480,"o":134.02,"h":134.31,"l":133.02,"c":134.06},
{"i":481,"o":134.07,"h":134.37,"l":133.59,"c":133.79},
{"i":482,"o":133.80,"h":133.81,"l":133.42,"c":133.59},
{"i":483,"o":133.60,"h":133.63,"l":133.50,"c":133.52},
{"i":484,"o":133.47,"h":133.91,"l":133.43,"c":133.70},
{"i":485,"o":133.70,"h":133.92,"l":133.58,"c":133.60},
{"i":486,"o":133.61,"h":133.85,"l":133.13,"c":133.48}
]},
"layer":[
{"data":{"values":[{"i":392}]},
 "mark":{"type":"rule","color":"#f0806c","strokeWidth":1},
 "encoding":{"x":{"field":"i","type":"quantitative","scale":{"domain":[-0.375,486.625],"nice":false,"zero":false},"axis":null}}},
{"data":{"values":[{"i":348.6,"top":139.92,"bot":139.29},{"i":349.6,"top":138.87,"bot":138.21}]},
 "mark":{"type":"rule","color":"#00c0ff","strokeWidth":2},
 "encoding":{"x":{"field":"i","type":"quantitative","scale":{"domain":[-0.375,486.625],"nice":false,"zero":false},"axis":null},
  "y":{"field":"bot","type":"quantitative","scale":{"domain":[129.568,143.159],"nice":false,"zero":false},"axis":{"orient":"right","title":null,"values":[142.86,142.45,142.04,141.64,141.23,140.82,140.41,140.0,139.59,139.18,138.77,138.36,137.95,137.54,137.13,136.72,136.31,135.9,135.49,135.08,134.67,134.26,133.85,133.44,133.04,132.63,132.22,131.81,131.4,130.99,130.58,130.17,129.76]}},
  "y2":{"field":"top"}}},
{"data":{"name":"candles"},
 "mark":{"type":"rule","color":"black","strokeWidth":1},
 "encoding":{"x":{"field":"i","type":"quantitative","scale":{"domain":[-0.375,486.625],"nice":false,"zero":false},"axis":null},
  "y":{"field":"l","type":"quantitative","scale":{"domain":[129.568,143.159],"nice":false,"zero":false},"axis":{"orient":"right","title":null,"values":[142.86,142.45,142.04,141.64,141.23,140.82,140.41,140.0,139.59,139.18,138.77,138.36,137.95,137.54,137.13,136.72,136.31,135.9,135.49,135.08,134.67,134.26,133.85,133.44,133.04,132.63,132.22,131.81,131.4,130.99,130.58,130.17,129.76]}},
  "y2":{"field":"h"}}},
{"data":{"name":"candles"},
 "mark":{"type":"bar","size":2,"stroke":"black","strokeWidth":1},
 "encoding":{"x":{"field":"i","type":"quantitative","scale":{"domain":[-0.375,486.625],"nice":false,"zero":false},"axis":null},
  "y":{"field":"o","type":"quantitative","scale":{"domain":[129.568,143.159],"nice":false,"zero":false},"axis":{"orient":"right","title":null,"values":[142.86,142.45,142.04,141.64,141.23,140.82,140.41,140.0,139.59,139.18,138.77,138.36,137.95,137.54,137.13,136.72,136.31,135.9,135.49,135.08,134.67,134.26,133.85,133.44,133.04,132.63,132.22,131.81,131.4,130.99,130.58,130.17,129.76]}},
  "y2":{"field":"c"},
  "fill":{"condition":{"test":"datum.c > datum.o","value":"white"},"value":"black"}}},
{"data":{"name":"candles"},
 "transform":[{"filter":"datum.i == 422"}],
 "mark":{"type":"rule","color":"#1fd81f","strokeWidth":1},
 "encoding":{"x":{"field":"i","type":"quantitative","scale":{"domain":[-0.375,486.625],"nice":false,"zero":false},"axis":null},
  "y":{"field":"l","type":"quantitative","scale":{"domain":[129.568,143.159],"nice":false,"zero":false},"axis":{"orient":"right","title":null,"values":[142.86,142.45,142.04,141.64,141.23,140.82,140.41,140.0,139.59,139.18,138.77,138.36,137.95,137.54,137.13,136.72,136.31,135.9,135.49,135.08,134.67,134.26,133.85,133.44,133.04,132.63,132.22,131.81,131.4,130.99,130.58,130.17,129.76]}},
  "y2":{"field":"h"}}},
{"data":{"name":"candles"},
 "transform":[{"filter":"datum.i == 422"}],
 "mark":{"type":"bar","size":2,"stroke":"#1fd81f","fill":"#1fd81f","strokeWidth":1},
 "encoding":{"x":{"field":"i","type":"quantitative","scale":{"domain":[-0.375,486.625],"nice":false,"zero":false},"axis":null},
  "y":{"field":"o","type":"quantitative","scale":{"domain":[129.568,143.159],"nice":false,"zero":false},"axis":{"orient":"right","title":null,"values":[142.86,142.45,142.04,141.64,141.23,140.82,140.41,140.0,139.59,139.18,138.77,138.36,137.95,137.54,137.13,136.72,136.31,135.9,135.49,135.08,134.67,134.26,133.85,133.44,133.04,132.63,132.22,131.81,131.4,130.99,130.58,130.17,129.76]}},
  "y2":{"field":"c"}}},
{"data":{"values":[{"t":0,"i":173.9,"p":138.03},{"t":1,"i":289.6,"p":141.39}]},
 "mark":{"type":"trail","color":"#ff0000"},
 "encoding":{"x":{"field":"i","type":"quantitative","scale":{"domain":[-0.375,486.625],"nice":false,"zero":false},"axis":null},
  "y":{"field":"p","type":"quantitative","scale":{"domain":[129.568,143.159],"nice":false,"zero":false},"axis":{"orient":"right","title":null,"values":[142.86,142.45,142.04,141.64,141.23,140.82,140.41,140.0,139.59,139.18,138.77,138.36,137.95,137.54,137.13,136.72,136.31,135.9,135.49,135.08,134.67,134.26,133.85,133.44,133.04,132.63,132.22,131.81,131.4,130.99,130.58,130.17,129.76]}},
  "order":{"field":"t","type":"quantitative"},
  "size":{"field":"t","type":"quantitative","scale":{"domain":[0,1],"range":[3,14]},"legend":null}}},
{"data":{"values":[{"t":0,"i":424.1,"p":141.82},{"t":1,"i":453.6,"p":139.14}]},
 "mark":{"type":"trail","color":"#ff0000"},
 "encoding":{"x":{"field":"i","type":"quantitative","scale":{"domain":[-0.375,486.625],"nice":false,"zero":false},"axis":null},
  "y":{"field":"p","type":"quantitative","scale":{"domain":[129.568,143.159],"nice":false,"zero":false},"axis":{"orient":"right","title":null,"values":[142.86,142.45,142.04,141.64,141.23,140.82,140.41,140.0,139.59,139.18,138.77,138.36,137.95,137.54,137.13,136.72,136.31,135.9,135.49,135.08,134.67,134.26,133.85,133.44,133.04,132.63,132.22,131.81,131.4,130.99,130.58,130.17,129.76]}},
  "order":{"field":"t","type":"quantitative"},
  "size":{"field":"t","type":"quantitative","scale":{"domain":[0,1],"range":[4,23]},"legend":null}}},
{"data":{"values":[{"i":292.4,"p":141.49}]},
 "mark":{"type":"point","shape":"M0,-1L1.03,1L-1.03,1Z","size":2601,"filled":true,"color":"#ff0000","opacity":1,"angle":59.4},
 "encoding":{"x":{"field":"i","type":"quantitative","scale":{"domain":[-0.375,486.625],"nice":false,"zero":false},"axis":null},
  "y":{"field":"p","type":"quantitative","scale":{"domain":[129.568,143.159],"nice":false,"zero":false},"axis":{"orient":"right","title":null,"values":[142.86,142.45,142.04,141.64,141.23,140.82,140.41,140.0,139.59,139.18,138.77,138.36,137.95,137.54,137.13,136.72,136.31,135.9,135.49,135.08,134.67,134.26,133.85,133.44,133.04,132.63,132.22,131.81,131.4,130.99,130.58,130.17,129.76]}}}},
{"data":{"values":[{"i":455.9,"p":138.96}]},
 "mark":{"type":"point","shape":"M0,-1L1.03,1L-1.03,1Z","size":2601,"filled":true,"color":"#ff0000","opacity":1,"angle":151.7},
 "encoding":{"x":{"field":"i","type":"quantitative","scale":{"domain":[-0.375,486.625],"nice":false,"zero":false},"axis":null},
  "y":{"field":"p","type":"quantitative","scale":{"domain":[129.568,143.159],"nice":false,"zero":false},"axis":{"orient":"right","title":null,"values":[142.86,142.45,142.04,141.64,141.23,140.82,140.41,140.0,139.59,139.18,138.77,138.36,137.95,137.54,137.13,136.72,136.31,135.9,135.49,135.08,134.67,134.26,133.85,133.44,133.04,132.63,132.22,131.81,131.4,130.99,130.58,130.17,129.76]}}}},
{"data":{"values":[{"x1":487.1,"x2":497.4,"y1":136.93,"y2":136.79}]},
 "mark":{"type":"rect","color":"black"},
 "encoding":{"x":{"field":"x1","type":"quantitative","scale":{"domain":[-0.375,486.625],"nice":false,"zero":false},"axis":null},
  "x2":{"field":"x2"},
  "y":{"field":"y1","type":"quantitative","scale":{"domain":[129.568,143.159],"nice":false,"zero":false},"axis":{"orient":"right","title":null,"values":[142.86,142.45,142.04,141.64,141.23,140.82,140.41,140.0,139.59,139.18,138.77,138.36,137.95,137.54,137.13,136.72,136.31,135.9,135.49,135.08,134.67,134.26,133.85,133.44,133.04,132.63,132.22,131.81,131.4,130.99,130.58,130.17,129.76]}},
  "y2":{"field":"y2"}}},
{"data":{"values":[{"i":487.7,"p":136.861,"t":"136.861"}]},
 "mark":{"type":"text","font":"Liberation Sans","fontSize":9,"fill":"white","align":"left","baseline":"middle"},
 "encoding":{"x":{"field":"i","type":"quantitative","scale":{"domain":[-0.375,486.625],"nice":false,"zero":false},"axis":null},
  "y":{"field":"p","type":"quantitative","scale":{"domain":[129.568,143.159],"nice":false,"zero":false},"axis":{"orient":"right","title":null,"values":[142.86,142.45,142.04,141.64,141.23,140.82,140.41,140.0,139.59,139.18,138.77,138.36,137.95,137.54,137.13,136.72,136.31,135.9,135.49,135.08,134.67,134.26,133.85,133.44,133.04,132.63,132.22,131.81,131.4,130.99,130.58,130.17,129.76]}},
  "text":{"field":"t"}}},
{"data":{"values":[{"t":"2020.09.01","i":366.9,"p":131.10},{"t":"GBPJPY_H4","i":416.0,"p":131.10}]},
 "mark":{"type":"text","font":"Roboto","fontWeight":"bold","fontSize":32,"align":"center","baseline":"middle","dx":3,"dy":3,"fill":"#808080","stroke":"#808080","strokeWidth":5,"strokeJoin":"round","opacity":0.3},
 "encoding":{"x":{"field":"i","type":"quantitative","scale":{"domain":[-0.375,486.625],"nice":false,"zero":false},"axis":null},
  "y":{"field":"p","type":"quantitative","scale":{"domain":[129.568,143.159],"nice":false,"zero":false},"axis":{"orient":"right","title":null,"values":[142.86,142.45,142.04,141.64,141.23,140.82,140.41,140.0,139.59,139.18,138.77,138.36,137.95,137.54,137.13,136.72,136.31,135.9,135.49,135.08,134.67,134.26,133.85,133.44,133.04,132.63,132.22,131.81,131.4,130.99,130.58,130.17,129.76]}},
  "text":{"field":"t"}}},
{"data":{"values":[{"t":"2020.09.01","i":366.9,"p":131.10},{"t":"GBPJPY_H4","i":416.0,"p":131.10}]},
 "mark":{"type":"text","font":"Roboto","fontWeight":"bold","fontSize":32,"align":"center","baseline":"middle","fill":"white","stroke":"white","strokeWidth":6,"strokeJoin":"round"},
 "encoding":{"x":{"field":"i","type":"quantitative","scale":{"domain":[-0.375,486.625],"nice":false,"zero":false},"axis":null},
  "y":{"field":"p","type":"quantitative","scale":{"domain":[129.568,143.159],"nice":false,"zero":false},"axis":{"orient":"right","title":null,"values":[142.86,142.45,142.04,141.64,141.23,140.82,140.41,140.0,139.59,139.18,138.77,138.36,137.95,137.54,137.13,136.72,136.31,135.9,135.49,135.08,134.67,134.26,133.85,133.44,133.04,132.63,132.22,131.81,131.4,130.99,130.58,130.17,129.76]}},
  "text":{"field":"t"}}},
{"data":{"values":[{"t":"2020.09.01","i":366.9,"p":131.10},{"t":"GBPJPY_H4","i":416.0,"p":131.10}]},
 "mark":{"type":"text","font":"Roboto","fontWeight":"bold","fontSize":32,"align":"center","baseline":"middle","fill":"#1e82f5"},
 "encoding":{"x":{"field":"i","type":"quantitative","scale":{"domain":[-0.375,486.625],"nice":false,"zero":false},"axis":null},
  "y":{"field":"p","type":"quantitative","scale":{"domain":[129.568,143.159],"nice":false,"zero":false},"axis":{"orient":"right","title":null,"values":[142.86,142.45,142.04,141.64,141.23,140.82,140.41,140.0,139.59,139.18,138.77,138.36,137.95,137.54,137.13,136.72,136.31,135.9,135.49,135.08,134.67,134.26,133.85,133.44,133.04,132.63,132.22,131.81,131.4,130.99,130.58,130.17,129.76]}},
  "text":{"field":"t"}}}
]
}
